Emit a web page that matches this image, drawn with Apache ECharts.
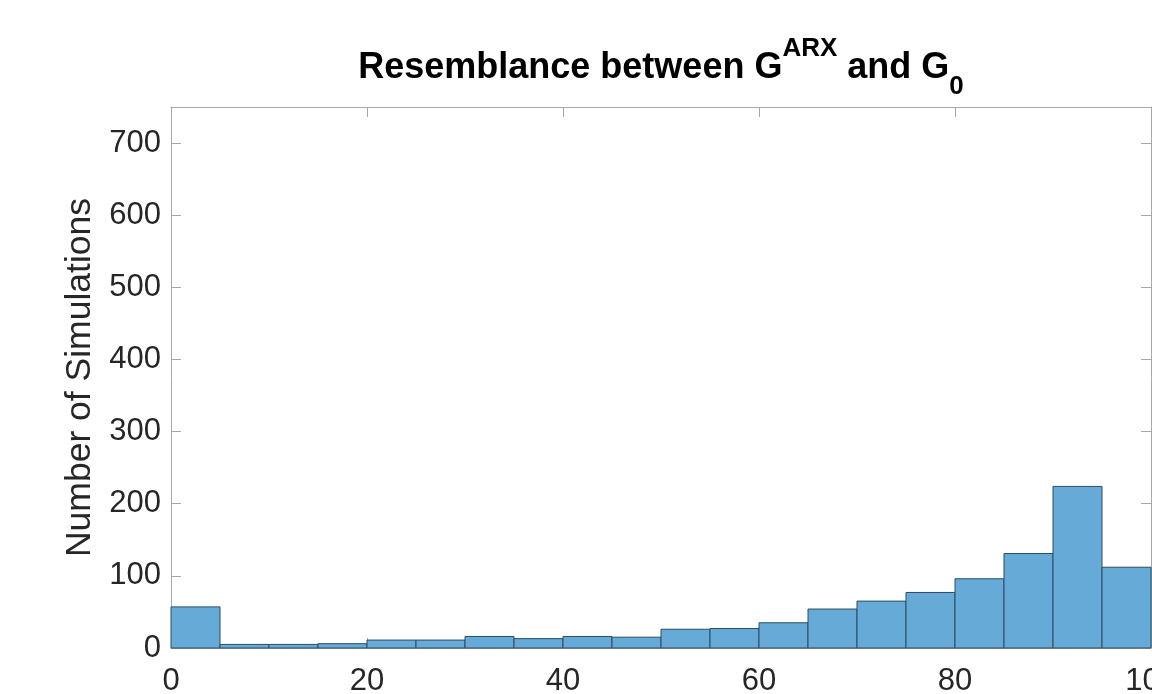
<!DOCTYPE html>
<html>
<head>
<meta charset="utf-8">
<script src="https://cdn.jsdelivr.net/npm/echarts@6/dist/echarts.min.js"></script>
<style>html,body{margin:0;padding:0;background:#fff;}#c{width:1152px;height:694px;}</style>
</head>
<body>
<div id="c"></div>
<script>
// Histogram bins (lower edges), width 5
var binStarts = [0, 5, 10, 15, 20, 25, 30, 35, 40, 45, 50, 55, 60, 65, 70, 75, 80, 85, 90, 95];
var binWidth = 5;
var counts = [57, 5, 5, 6, 11, 11, 16, 13, 16, 15, 26, 27, 35, 54, 65, 77, 96, 131, 224, 112];
var xTicks = [0, 20, 40, 60, 80, 100];
var yTicks = [0, 100, 200, 300, 400, 500, 600, 700];

var data = binStarts.map(function (s, i) { return [s, s + binWidth, counts[i]]; });

var FONT = 'Liberation Sans, Arial, Helvetica, sans-serif';
var axisCol = '#a8a8a8';
var txtCol = '#262626';

var chart = echarts.init(document.getElementById('c'), null, {renderer: 'canvas'});
chart.setOption({
  animation: false,
  backgroundColor: '#ffffff',
  title: {
    left: 661,
    top: 36,
    textAlign: 'center',
    padding: 0,
    text: '{a|Resemblance between G}{sup|ARX}{a| and G}{sub|0}',
    textStyle: {
      rich: {
        a: {fontFamily: FONT, fontWeight: 'bold', fontSize: 36, color: '#000', lineHeight: 64, verticalAlign: 'middle'},
        sup: {fontFamily: FONT, fontWeight: 'bold', fontSize: 26, color: '#000', lineHeight: 52, verticalAlign: 'top'},
        sub: {fontFamily: FONT, fontWeight: 'bold', fontSize: 26, color: '#000', lineHeight: 24, verticalAlign: 'bottom'}
      }
    }
  },
  grid: {left: 171, top: 107, right: 1, bottom: 46, containLabel: false, outerBoundsMode: 'none'},
  xAxis: [{
    type: 'value', min: 0, max: 100, interval: 20, position: 'bottom',
    axisLine: {show: true, onZero: false, lineStyle: {color: axisCol, width: 1}},
    axisTick: {show: true, inside: true, length: 10, lineStyle: {color: axisCol}},
    axisLabel: {show: true, margin: 18, color: txtCol, fontSize: 31, fontFamily: FONT, showMaxLabel: true, showMinLabel: true, hideOverlap: false,
      formatter: function (v) { return xTicks.indexOf(v) >= 0 ? String(v) : ''; }},
    splitLine: {show: false}
  }, {
    type: 'value', min: 0, max: 100, interval: 20, position: 'top',
    axisLine: {show: true, onZero: false, lineStyle: {color: axisCol, width: 1}},
    axisTick: {show: true, inside: true, length: 10, lineStyle: {color: axisCol}},
    axisLabel: {show: false},
    splitLine: {show: false}
  }],
  yAxis: [{
    type: 'value', min: 0, max: 750, interval: 100, position: 'left',
    name: 'Number of Simulations', nameLocation: 'middle', nameRotate: 90, nameGap: 72,
    nameTextStyle: {fontSize: 35.5, fontFamily: FONT, color: txtCol},
    axisLine: {show: true, onZero: false, lineStyle: {color: axisCol, width: 1}},
    axisTick: {show: true, inside: true, length: 10, lineStyle: {color: axisCol}},
    axisLabel: {show: true, margin: 10, color: txtCol, fontSize: 31, fontFamily: FONT, showMaxLabel: false,
      formatter: function (v) { return yTicks.indexOf(v) >= 0 ? String(v) : ''; }},
    splitLine: {show: false}
  }, {
    type: 'value', min: 0, max: 750, interval: 100, position: 'right',
    axisLine: {show: true, onZero: false, lineStyle: {color: axisCol, width: 1}},
    axisTick: {show: true, inside: true, length: 10, lineStyle: {color: axisCol}},
    axisLabel: {show: false},
    splitLine: {show: false}
  }],
  series: [{
    type: 'custom',
    xAxisIndex: 0, yAxisIndex: 0,
    data: data,
    encode: {x: [0, 1], y: 2},
    renderItem: function (params, api) {
      var p0 = api.coord([api.value(0), api.value(2)]);
      var p1 = api.coord([api.value(1), 0]);
      return {
        type: 'rect',
        shape: {x: p0[0], y: p0[1], width: p1[0] - p0[0], height: p1[1] - p0[1]},
        style: {fill: '#66aad7', stroke: '#2c4c63', lineWidth: 1}
      };
    }
  }]
});
</script>
</body>
</html>
